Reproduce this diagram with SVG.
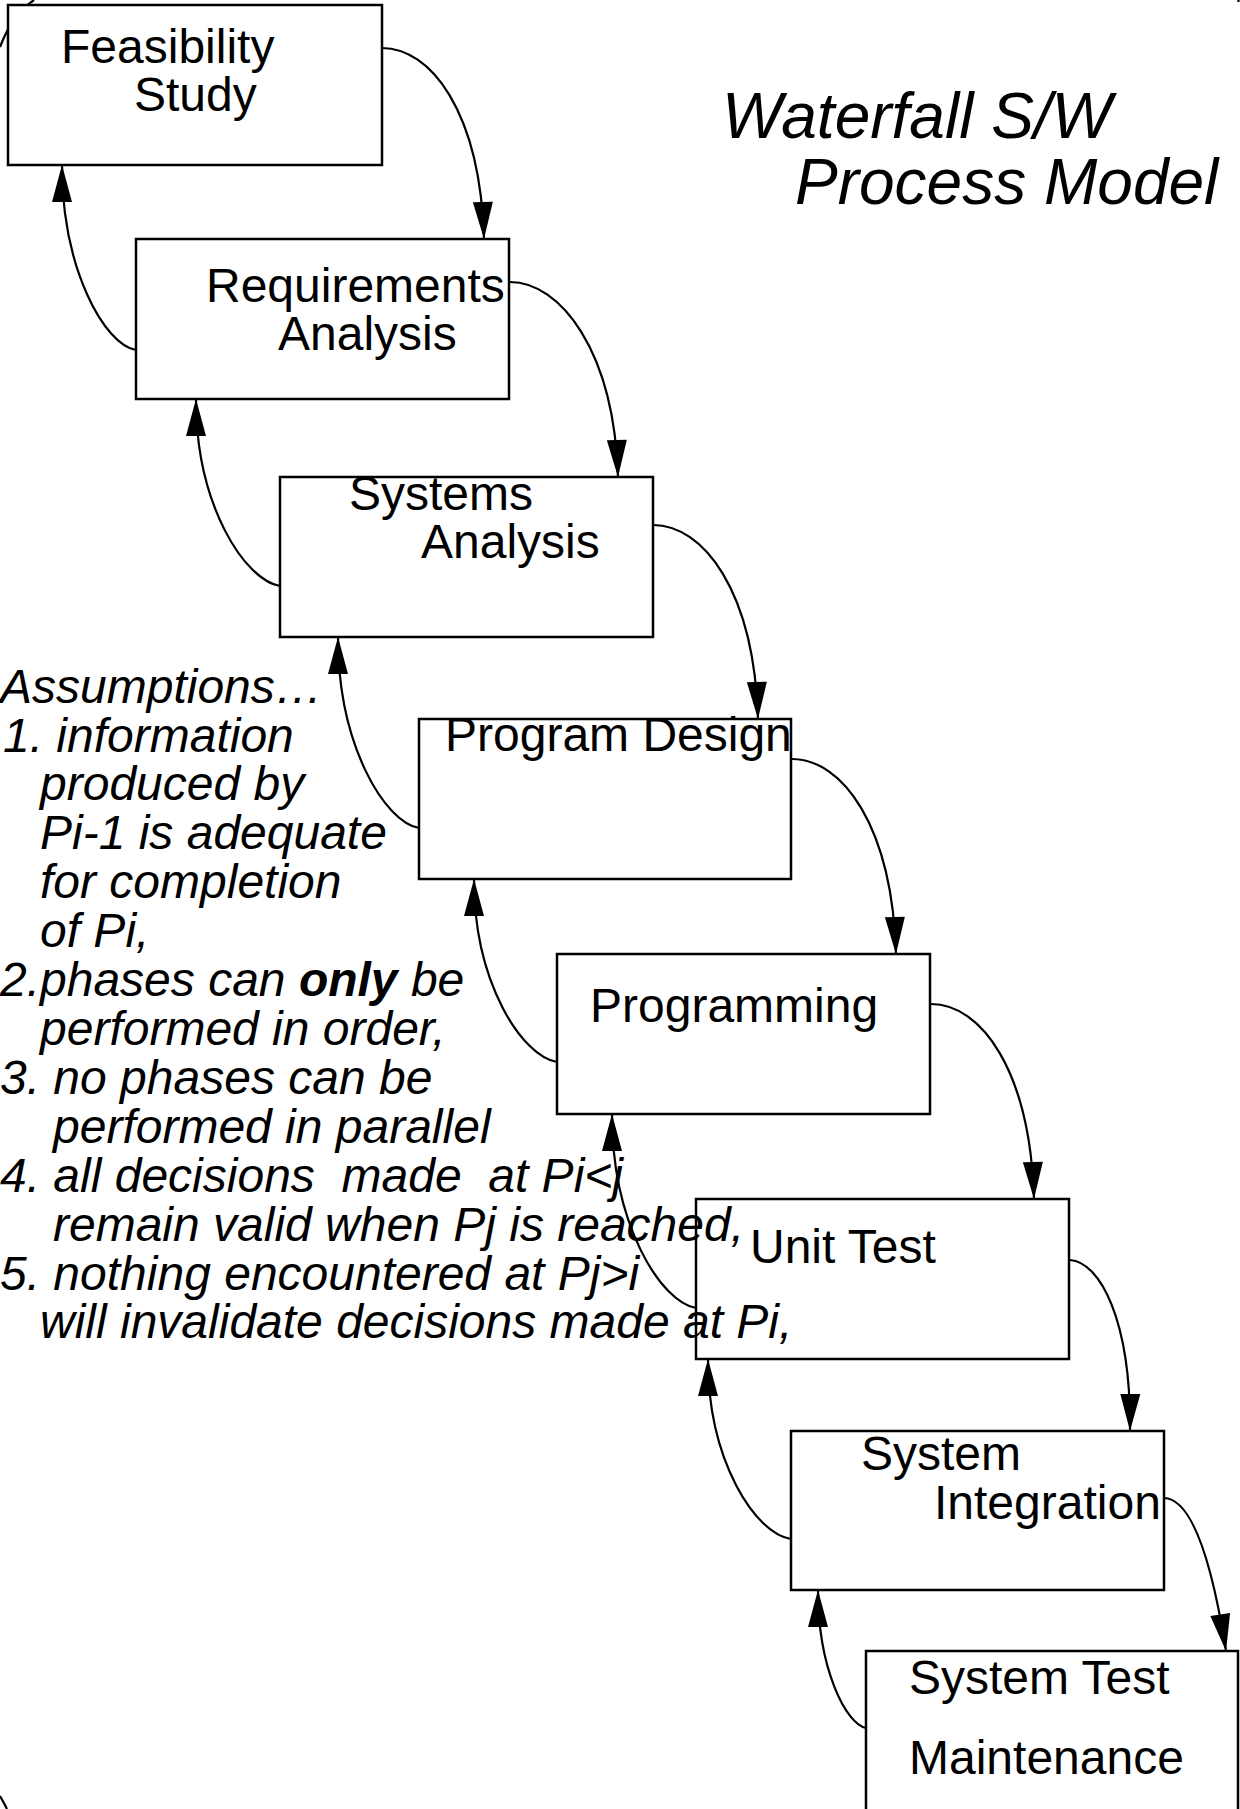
<svg xmlns="http://www.w3.org/2000/svg" width="1240" height="1809" viewBox="0 0 1240 1809">
<style>
.box{fill:#fff;stroke:#000;stroke-width:2.5}
.lbl{font-family:"Liberation Sans",Arial,Helvetica,sans-serif;font-size:48px;fill:#000}
.note{font-family:"Liberation Sans",Arial,Helvetica,sans-serif;font-size:48px;font-style:italic;fill:#000;white-space:pre}
.title{font-family:"Liberation Sans",Arial,Helvetica,sans-serif;font-size:64px;font-style:italic;fill:#000}
.c{fill:none;stroke:#000;stroke-width:2.2}
.a{marker-end:url(#ah)}
</style>
<defs>
<marker id="ah" markerUnits="userSpaceOnUse" markerWidth="40" markerHeight="20" refX="37" refY="10" orient="auto" overflow="visible">
<path d="M0,0 L37,10 L0,20 z" fill="#000"/>
</marker>
</defs>
<rect width="1240" height="1809" fill="#fff"/>
<g id="edge-fragments">
<path class="c" d="M0,47 Q12,15 34,0"/>
<path class="c" d="M0,1796 Q3,1801 7,1809"/>
<path class="c" d="M1238.5,0 L1238.5,2"/>
</g>
<g id="n1"><rect class="box" x="8" y="5" width="374" height="160"/><text class="lbl" x="61" y="63">Feasibility</text><text class="lbl" x="134" y="111">Study</text></g>
<g id="n2"><rect class="box" x="136" y="239" width="373" height="160"/><text class="lbl" x="206" y="302">Requirements</text><text class="lbl" x="278" y="350">Analysis</text></g>
<g id="n3"><rect class="box" x="280" y="477" width="373" height="160"/><text class="lbl" x="349" y="510">Systems</text><text class="lbl" x="421" y="558">Analysis</text></g>
<g id="n4"><rect class="box" x="419" y="719" width="372" height="160"/><text class="lbl" x="445" y="751">Program Design</text></g>
<g id="n5"><rect class="box" x="557" y="954" width="373" height="160"/><text class="lbl" x="590" y="1022">Programming</text></g>
<g id="n6"><rect class="box" x="696" y="1199" width="373" height="160"/><text class="lbl" x="750" y="1263">Unit Test</text></g>
<g id="n7"><rect class="box" x="791" y="1431" width="373" height="159"/><text class="lbl" x="861" y="1470">System</text><text class="lbl" x="934" y="1519">Integration</text></g>
<g id="n8"><rect class="box" x="866" y="1651" width="372" height="170"/><text class="lbl" x="909" y="1694">System Test</text><text class="lbl" x="909" y="1774">Maintenance</text></g>
<g id="title"><text class="title" x="722" y="138">Waterfall S/W</text><text class="title" x="795" y="204">Process Model</text></g>
<g id="assumptions">
<text class="note" x="0" y="703">Assumptions…</text>
<text class="note" x="3" y="752">1. information</text>
<text class="note" x="40" y="800">produced by</text>
<text class="note" x="40" y="849">Pi-1 is adequate</text>
<text class="note" x="40" y="898">for completion</text>
<text class="note" x="40" y="947">of Pi,</text>
<text class="note" x="0" y="996">2.phases can <tspan font-weight="bold">only</tspan> be</text>
<text class="note" x="40" y="1045">performed in order,</text>
<text class="note" x="0" y="1094">3. no phases can be</text>
<text class="note" x="53" y="1143">performed in parallel</text>
<text class="note" x="0" y="1192">4. all decisions  made  at Pi&lt;j</text>
<text class="note" x="53" y="1241">remain valid when Pj is reached,</text>
<text class="note" x="0" y="1290">5. nothing encountered at Pj&gt;i</text>
<text class="note" x="40" y="1338">will invalidate decisions made at Pi,</text>
</g>
<g id="connectors">
<path class="c a" d="M382,48 C430,48 480,110 484,239"/>
<path class="c a" d="M510,282 C560,282 614,350 618,477"/>
<path class="c a" d="M653,525 C703,525 754,590 758,719"/>
<path class="c a" d="M792,759 C842,759 892,825 896,954"/>
<path class="c a" d="M931,1004 C981,1004 1030,1070 1034,1199"/>
<path class="c a" d="M1070,1260 C1100,1262 1131,1320 1130,1431"/>
<path class="c a" d="M1164,1498 C1195,1499 1214,1575 1226,1651"/>
<path class="c a" d="M136,350 C105,345 62,270 62,165"/>
<path class="c a" d="M280,586 C245,580 196,506 196,399"/>
<path class="c a" d="M419,828 C385,822 338,746 338,637"/>
<path class="c a" d="M557,1062 C522,1056 474,983 474,879"/>
<path class="c a" d="M696,1308 C661,1302 612,1225 612,1114"/>
<path class="c a" d="M791,1539 C756,1534 708,1462 708,1359"/>
<path class="c a" d="M866,1728 C846,1724 818,1669 818,1590"/>
</g>
</svg>
